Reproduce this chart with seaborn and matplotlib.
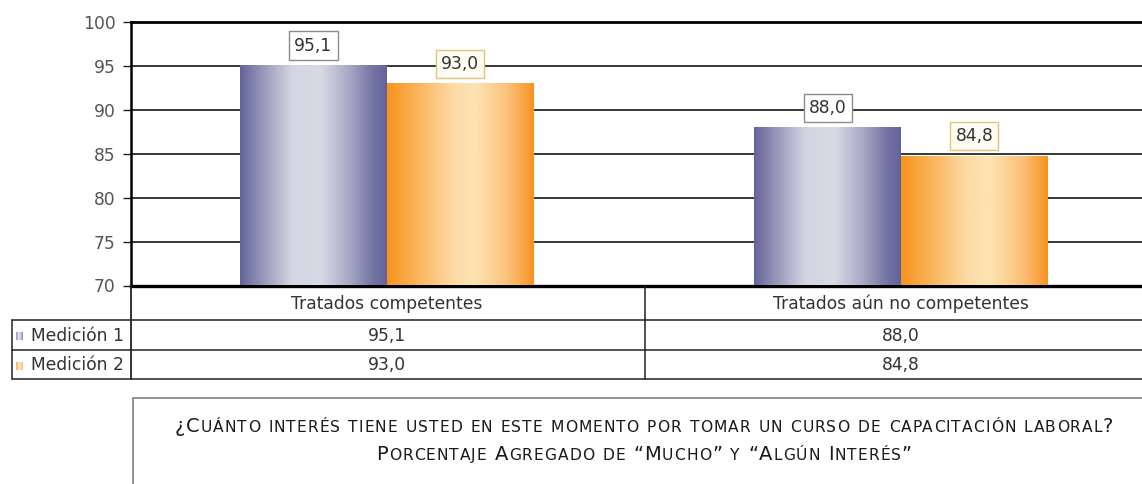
import numpy as np
import pandas as pd
import matplotlib
matplotlib.use("Agg")
import matplotlib.pyplot as plt
from matplotlib.colors import LinearSegmentedColormap
from matplotlib.patches import Rectangle
from matplotlib.lines import Line2D
import seaborn as sns

# ---- data -------------------------------------------------------------
categorias = ["Tratados competentes", "Tratados aún no competentes"]
series = ["Medición 1", "Medición 2"]
medicion_1 = [95.1, 88.0]
medicion_2 = [93.0, 84.8]
y_ticks = [70, 75, 80, 85, 90, 95, 100]
titulo_1 = "¿Cuánto interés tiene usted en este momento por tomar un curso de capacitación laboral?"
titulo_2 = "Porcentaje Agregado de “Mucho” y “Algún Interés”"


def fmt(v):
    return f"{v:.1f}".replace(".", ",")


# ---- styling ----------------------------------------------------------
W, H = 1142, 484
sns.set_theme(style="white")
plt.rcParams["font.family"] = ["DejaVu Sans"]

FS = 12.3
TXT = "#333333"

azul = LinearSegmentedColormap.from_list(
    "azul",
    [(0.0, "#62639a"), (0.12, "#8c8db3"), (0.35, "#d3d5e2"), (0.55, "#d8dae5"),
     (0.75, "#a5a7c4"), (0.9, "#7576a4"), (1.0, "#62639a")])
naranja = LinearSegmentedColormap.from_list(
    "naranja",
    [(0.0, "#f7931e"), (0.12, "#f9a63f"), (0.45, "#fddba6"), (0.6, "#fde3b4"),
     (0.82, "#fbc27b"), (0.95, "#f8a03c"), (1.0, "#f7931e")])
cmaps = [azul, naranja]
base_colors = ["#64649a", "#f7941d"]
label_edges = ["#8c8c8c", "#e3c27a"]
label_faces = ["white", "#fffdf3"]

fig = plt.figure(figsize=(W / 100, H / 100), dpi=100)
fig.patch.set_facecolor("white")


def fx(x):
    return x / W


def fy(y):
    return 1 - y / H


# plot area in pixel rows/cols of the figure
AX_L, AX_R, AX_T, AX_B = 131, 1142, 22, 285.5
ax = fig.add_axes([fx(AX_L), fy(AX_B), fx(AX_R) - fx(AX_L), fy(AX_T) - fy(AX_B)])

df = pd.DataFrame({
    "categoria": categorias * 2,
    "serie": [series[0]] * len(categorias) + [series[1]] * len(categorias),
    "valor": medicion_1 + medicion_2,
})

sns.barplot(data=df, x="categoria", y="valor", hue="serie",
            order=categorias, hue_order=series, palette=base_colors,
            width=0.57, gap=0, saturation=1, errorbar=None, legend=False,
            linewidth=0, ax=ax)

ymin, ymax = 70, 100
xlim = (-0.497, 1.4686)

grad = np.linspace(0, 1, 256)[None, :]
for i, cont in enumerate(ax.containers):
    for bar in cont:
        x0, w, h = bar.get_x(), bar.get_width(), bar.get_height()
        bar.set_zorder(2.5)
        im = ax.imshow(grad, cmap=cmaps[i], extent=(x0, x0 + w, ymin, h),
                       aspect="auto", origin="lower", zorder=3,
                       interpolation="bicubic")
        im.set_clip_path(bar)
        ax.annotate(fmt(h), xy=(x0 + w / 2, h), xytext=(0, 7.5),
                    textcoords="offset points", ha="center", va="bottom",
                    fontsize=FS, color=TXT, zorder=5,
                    bbox=dict(boxstyle="square,pad=0.3", fc=label_faces[i],
                              ec=label_edges[i], lw=1.0))

ax.set_xlim(*xlim)
ax.set_ylim(ymin, ymax)
ax.set_yticks(y_ticks)
ax.set_yticklabels([str(t) for t in y_ticks])
ax.set_xticks([])
ax.set_xlabel("")
ax.set_ylabel("")
ax.grid(axis="y", color="black", lw=1.1)
ax.set_axisbelow(True)
ax.tick_params(axis="y", left=True, length=6, width=1.0, color="#222222",
               labelsize=FS, labelcolor="#555555", pad=5)
for side in ("left", "top", "bottom"):
    ax.spines[side].set_visible(True)
    ax.spines[side].set_color("black")
ax.spines["left"].set_linewidth(1.8)
ax.spines["top"].set_linewidth(2.0)
ax.spines["bottom"].set_linewidth(2.4)
ax.spines["right"].set_visible(False)


# ---- data table under the plot ------------------------------------------
def hline(y, x0, x1, color="#222222", lw=1.1):
    fig.add_artist(Line2D([fx(x0), fx(x1)], [fy(y), fy(y)], color=color, lw=lw,
                          transform=fig.transFigure))


def vline(x, y0, y1, color="#222222", lw=1.1):
    fig.add_artist(Line2D([fx(x), fx(x)], [fy(y0), fy(y1)], color=color, lw=lw,
                          transform=fig.transFigure))


ROW_TOP, ROW1, ROW2, ROW3 = AX_B, 320, 350, 379
TBL_L, COL_DIV = 11.7, 645

hline(ROW1, TBL_L, W)
hline(ROW2, TBL_L, W)
hline(ROW3, TBL_L, W)
vline(TBL_L, ROW1, ROW3)
vline(AX_L, ROW_TOP, ROW3, lw=1.3)
vline(COL_DIV, ROW_TOP, ROW3)

# column centres follow the category positions on the x axis
to_px = lambda xd: AX_L + (xd - xlim[0]) / (xlim[1] - xlim[0]) * (AX_R - AX_L)
col_centres = [to_px(i) for i in range(len(categorias))]

for c, cat in zip(col_centres, categorias):
    fig.text(fx(c), fy((ROW_TOP + ROW1) / 2 + 1), cat, ha="center", va="center",
             fontsize=FS, color=TXT)

for r, (name, vals) in enumerate(zip(series, [medicion_1, medicion_2])):
    yc = [(ROW1 + ROW2) / 2, (ROW2 + ROW3) / 2][r] + 1
    fig.text(fx(31), fy(yc), name, ha="left", va="center", fontsize=FS, color=TXT)
    sw = fig.add_axes([fx(16), fy(yc + 4), fx(7), fy(0) - fy(8)])
    sw.imshow(grad, cmap=cmaps[r], aspect="auto", interpolation="bicubic", alpha=0.75)
    sw.set_axis_off()
    for c, v in zip(col_centres, vals):
        fig.text(fx(c), fy(yc), fmt(v), ha="center", va="center",
                 fontsize=FS, color=TXT)

# ---- caption box -------------------------------------------------------------
fig.add_artist(Rectangle((fx(133), fy(H + 20)), fx(W + 40) - fx(133),
                         fy(398) - fy(H + 20), fill=False, ec="#8a8a8a", lw=1.3,
                         transform=fig.transFigure))

renderer = fig.canvas.get_renderer()


def advance(ch, size):
    probe = fig.text(0, 0, "|" + ch + "|", fontsize=size)
    ref = fig.text(0, 0, "||", fontsize=size)
    w = probe.get_window_extent(renderer).width - ref.get_window_extent(renderer).width
    probe.remove()
    ref.remove()
    return w


def small_caps(text, y_base, x_centre, big, small, tracking=0.0):
    glyphs = []
    for ch in text:
        if ch.islower():
            glyphs.append((ch.upper(), small))
        else:
            glyphs.append((ch, big))
    widths = [advance(c, s) + tracking for c, s in glyphs]
    total = sum(widths) - tracking
    x = x_centre - total / 2
    for (c, s), w in zip(glyphs, widths):
        if c != " ":
            fig.text(fx(x), fy(y_base), c, fontsize=s, ha="left", va="baseline",
                     color="#1a1a1a")
        x += w


small_caps(titulo_1, 432, 644, 14.0, 11.2, tracking=1.0)
small_caps(titulo_2, 460, 644, 14.0, 11.2, tracking=1.0)

fig.savefig("out.png", dpi=100, facecolor="white")
